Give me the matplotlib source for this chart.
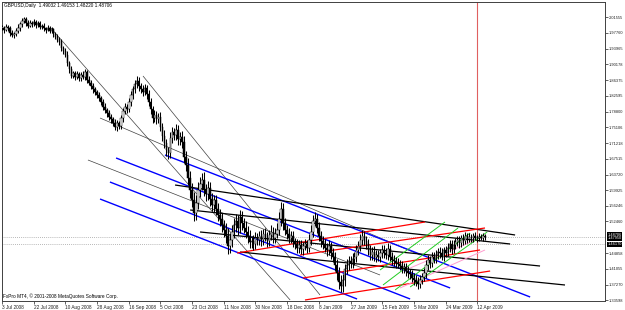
import matplotlib
matplotlib.use("Agg")
import matplotlib.pyplot as plt

# GBPUSD daily closes, Jul 2008 - Apr 2009
closes = [1.990, 1.985, 1.992, 1.988, 1.978, 1.972, 1.975, 1.982, 1.990, 1.998,
          2.005, 2.010, 2.000, 1.995, 2.002, 1.998, 2.004, 1.996, 2.000, 1.992,
          1.994, 1.988, 1.985, 1.990, 1.982, 1.986, 1.975, 1.968, 1.960, 1.955,
          1.940, 1.935, 1.925, 1.905, 1.890, 1.875, 1.880, 1.872, 1.878, 1.870,
          1.876, 1.872, 1.884, 1.865, 1.858, 1.850, 1.842, 1.835, 1.828, 1.820,
          1.812, 1.800, 1.792, 1.784, 1.775, 1.770, 1.762, 1.752, 1.760, 1.755,
          1.772, 1.790, 1.800, 1.795, 1.812, 1.828, 1.842, 1.855, 1.862, 1.850,
          1.842, 1.836, 1.845, 1.830, 1.812, 1.795, 1.772, 1.780, 1.770, 1.775,
          1.752, 1.730, 1.712, 1.695, 1.690, 1.725, 1.740, 1.732, 1.745, 1.722,
          1.728, 1.715, 1.680, 1.660, 1.630, 1.600, 1.575, 1.545, 1.570, 1.600,
          1.615, 1.625, 1.600, 1.590, 1.605, 1.578, 1.565, 1.575, 1.555, 1.540,
          1.530, 1.515, 1.505, 1.490, 1.465, 1.480, 1.500, 1.515, 1.525, 1.510,
          1.535, 1.520, 1.510, 1.500, 1.490, 1.475, 1.478, 1.470, 1.485, 1.480,
          1.490, 1.480, 1.495, 1.488, 1.478, 1.492, 1.500, 1.486, 1.495, 1.505,
          1.530, 1.555, 1.520, 1.505, 1.495, 1.485, 1.490, 1.475, 1.470, 1.462,
          1.468, 1.458, 1.465, 1.470, 1.462, 1.480, 1.500, 1.525, 1.530, 1.510,
          1.490, 1.478, 1.470, 1.462, 1.455, 1.465, 1.448, 1.440, 1.420, 1.400,
          1.380, 1.370, 1.385, 1.410, 1.420, 1.430, 1.425, 1.435, 1.440, 1.455,
          1.465, 1.480, 1.490, 1.478, 1.470, 1.455, 1.445, 1.452, 1.440, 1.445,
          1.440, 1.448, 1.455, 1.450, 1.445, 1.458, 1.440, 1.432, 1.430, 1.425,
          1.422, 1.418, 1.412, 1.415, 1.405, 1.400, 1.398, 1.390, 1.385, 1.380,
          1.375, 1.385, 1.392, 1.400, 1.420, 1.432, 1.425, 1.440, 1.435, 1.445,
          1.452, 1.448, 1.440, 1.455, 1.450, 1.462, 1.470, 1.458, 1.468, 1.475,
          1.480, 1.472, 1.485, 1.478, 1.490, 1.482, 1.488, 1.484, 1.490, 1.486,
          1.484, 1.488, 1.485, 1.490, 1.487]

# wicks above / below the candle body, in pips
wick_up = [60, 50, 70, 40, 50, 60, 45, 70, 80, 60,
           70, 60, 50, 80, 60, 50, 70, 40, 60, 50,
           50, 60, 40, 70, 50, 60, 40, 50, 60, 70,
           80, 60, 70, 90, 60, 80, 70, 50, 80, 60,
           70, 90, 60, 50, 80, 60, 70, 60, 50, 80,
           70, 60, 90, 60, 80, 70, 60, 90, 80, 70,
           90, 80, 100, 70, 80, 90, 80, 100, 110, 90,
           80, 100, 90, 70, 110, 90, 80, 120, 90, 100,
           120, 100, 140, 110, 90, 150, 120, 100, 130, 110,
           120, 150, 140, 130, 160, 150, 170, 200, 180, 190,
           160, 150, 180, 140, 170, 150, 160, 140, 130, 150,
           150, 160, 140, 170, 180, 160, 150, 170, 180, 150,
           160, 140, 120, 150, 130, 140, 120, 130, 150, 120,
           120, 130, 110, 140, 120, 130, 150, 110, 140, 160,
           180, 170, 150, 140, 120, 130, 110, 120, 100, 120,
           110, 120, 100, 130, 110, 140, 160, 150, 170, 130,
           140, 120, 110, 130, 120, 140, 110, 130, 120, 140,
           150, 160, 140, 130, 150, 120, 110, 130, 120, 140,
           130, 150, 140, 120, 110, 130, 120, 110, 130, 120,
           120, 110, 140, 120, 110, 150, 100, 110, 120, 100,
           110, 100, 120, 110, 100, 120, 100, 110, 120, 100,
           110, 120, 100, 130, 120, 110, 100, 120, 110, 100,
           100, 110, 120, 90, 100, 110, 90, 100, 110, 90,
           100, 90, 80, 100, 90, 80, 90, 70, 80, 90,
           70, 80, 60, 70, 50]
wick_dn = [50, 70, 40, 60, 70, 50, 60, 40, 50, 70,
           60, 50, 70, 50, 40, 60, 50, 70, 40, 60,
           60, 50, 70, 40, 60, 50, 70, 60, 50, 60,
           70, 80, 60, 70, 90, 70, 60, 80, 60, 70,
           80, 60, 70, 90, 60, 70, 80, 60, 70, 60,
           80, 70, 60, 80, 70, 90, 80, 70, 90, 80,
           80, 90, 70, 100, 80, 90, 100, 80, 90, 110,
           100, 90, 80, 110, 90, 120, 100, 90, 110, 100,
           110, 130, 120, 140, 160, 120, 110, 130, 120, 140,
           130, 140, 160, 150, 170, 180, 160, 190, 170, 150,
           170, 160, 150, 170, 140, 160, 150, 170, 160, 150,
           160, 150, 170, 160, 190, 150, 160, 140, 150, 170,
           140, 150, 130, 140, 160, 130, 150, 140, 120, 130,
           120, 140, 130, 110, 140, 120, 110, 130, 120, 110,
           140, 160, 170, 130, 120, 110, 130, 120, 110, 130,
           120, 110, 130, 100, 120, 110, 130, 120, 110, 140,
           130, 140, 120, 110, 130, 120, 140, 130, 150, 160,
           170, 160, 140, 150, 120, 130, 110, 120, 140, 120,
           110, 120, 130, 110, 120, 110, 130, 120, 110, 130,
           110, 120, 100, 130, 110, 120, 100, 110, 120, 110,
           100, 110, 120, 100, 110, 120, 110, 100, 120, 110,
           120, 100, 110, 100, 120, 110, 120, 100, 110, 100,
           110, 100, 90, 110, 100, 90, 100, 110, 90, 100,
           90, 100, 80, 90, 80, 90, 70, 80, 90, 70,
           80, 70, 60, 80, 60]

# time axis labels (one every 16 bars)
date_labels = ["3 Jul 2008", "22 Jul 2008", "10 Aug 2008", "28 Aug 2008",
               "16 Sep 2008", "5 Oct 2008", "23 Oct 2008", "11 Nov 2008",
               "30 Nov 2008", "18 Dec 2008", "8 Jan 2009", "27 Jan 2009",
               "15 Feb 2009", "5 Mar 2009", "24 Mar 2009", "12 Apr 2009"]
date_bars = [16 * k for k in range(len(date_labels))]

price_ticks = [2.01555, 1.97760, 1.93965, 1.90178, 1.86375, 1.82595, 1.78800,
               1.75106, 1.71218, 1.67515, 1.63720, 1.59925, 1.56246, 1.52460,
               1.44858, 1.41055, 1.37270, 1.33598]

# drawn trend lines: ((bar, price), (bar, price))
thin_lines = [((24.2, 1.9915), (145.5, 1.3360)),
              ((71.2, 1.8739), (160.6, 1.3480)),
              ((49.5, 1.7730), (211.1, 1.4440)),
              ((43.4, 1.6722), (190.9, 1.3960))]
blue_lines = [((82.3, 1.6842), (266.7, 1.3432)),
              ((57.6, 1.6770), (226.3, 1.3648)),
              ((54.5, 1.6193), (206.1, 1.3384)),
              ((49.5, 1.5785), (179.3, 1.3384))]
black_lines = [((87.4, 1.6121), (259.1, 1.4921)),
               ((95.0, 1.5521), (256.6, 1.4705)),
               ((100.0, 1.4993), (271.7, 1.4176)),
               ((120.2, 1.4512), (284.3, 1.3720))]
red_lines = [((118.7, 1.4488), (213.6, 1.5233)),
             ((150.5, 1.4440), (243.9, 1.5089)),
             ((152.0, 1.3888), (241.4, 1.4561)),
             ((153.0, 1.3360), (246.5, 1.4056))]
green_lines = [((192.4, 1.3720), (230.3, 1.5089)),
               ((198.5, 1.3600), (236.4, 1.4969)),
               ((206.1, 1.3672), (245.0, 1.4993)),
               ((190.9, 1.4080), (223.7, 1.5233))]
pink_lines = [((201.0, 1.3648), (243.9, 1.4561)),
              ((206.1, 1.4128), (243.9, 1.4897))]

price_levels = [1.48706, 1.4693]
marker_bar = 240

fig = plt.figure(figsize=(6.25, 3.1), dpi=100)
ax = fig.add_axes([2 / 625, 9 / 310, 603 / 625, 299 / 310])
ax.set_xlim(0, 304.5)
ax.set_ylim(1.33358, 2.05157)

# candles
opens = [closes[0]] + closes[:-1]
for i, (o, c) in enumerate(zip(opens, closes)):
    hi = max(o, c) + wick_up[i] * 1e-4
    lo = min(o, c) - wick_dn[i] * 1e-4
    ax.vlines(i, lo, hi, color="black", lw=0.75, zorder=3)
    body = max(abs(c - o), 0.0008)
    ax.bar(i, body, bottom=min(o, c), width=0.8,
           color="white" if c >= o else "black", edgecolor="black",
           lw=0.35, zorder=4)

def draw(lines, color, lw):
    for (b0, p0), (b1, p1) in lines:
        ax.plot([b0, b1], [p0, p1], color=color, lw=lw, zorder=2,
                solid_capstyle="butt")

draw(thin_lines, "#404040", 0.5)
draw(blue_lines, "#0000ff", 1.0)
draw(black_lines, "black", 0.9)
draw(red_lines, "#ff0000", 0.9)
draw(pink_lines, "#ff9ccf", 0.7)
draw(green_lines, "#22cc22", 0.7)

for lvl in price_levels:
    ax.axhline(lvl, color="#a0a0a0", lw=0.6, ls=(0, (1, 1.5)), zorder=1)
ax.axvline(marker_bar, color="#e06060", lw=0.8, zorder=1)

# axes styling like the terminal
for s in ax.spines.values():
    s.set_linewidth(0.7)
    s.set_color("#404040")
ax.yaxis.tick_right()
ax.set_yticks(price_ticks)
ax.set_yticklabels([f"{p:.5f}" for p in price_ticks])
ax.set_xticks(date_bars)
ax.set_xticklabels(date_labels)
for lbl in ax.get_xticklabels():
    lbl.set_ha("left")
ax.tick_params(axis="x", labelsize=3.4, length=2, width=0.5, pad=1,
               colors="#202020")
ax.tick_params(axis="y", labelsize=2.9, length=2, width=0.5, pad=0.8,
               colors="#202020")
for lbl in ax.get_xticklabels() + ax.get_yticklabels():
    lbl.set_family("Liberation Sans")

# price labels on the scale
box_labels = [("1.48706", 1.4925), ("1.47950", 1.4840), ("1.46170", 1.4693)]
for txt, p in box_labels:
    ax.text(1.004, p, txt, transform=ax.get_yaxis_transform(), ha="left",
            va="center", fontsize=2.8, color="white", family="Liberation Sans",
            bbox=dict(facecolor="black", edgecolor="none", pad=0.5),
            clip_on=False, zorder=6)

fig.text(4 / 625, 1 - 6 / 310, "GBPUSD,Daily  1.49032 1.49153 1.48220 1.48706",
         fontsize=3.4, va="center", ha="left", family="Liberation Sans")
fig.text(3 / 625, 1 - 296 / 310, "FxPro MT4, \u00a9 2001-2008 MetaQuotes Software Corp.",
         fontsize=3.4, va="center", ha="left", family="Liberation Sans")

fig.savefig("out.png", dpi=100)
